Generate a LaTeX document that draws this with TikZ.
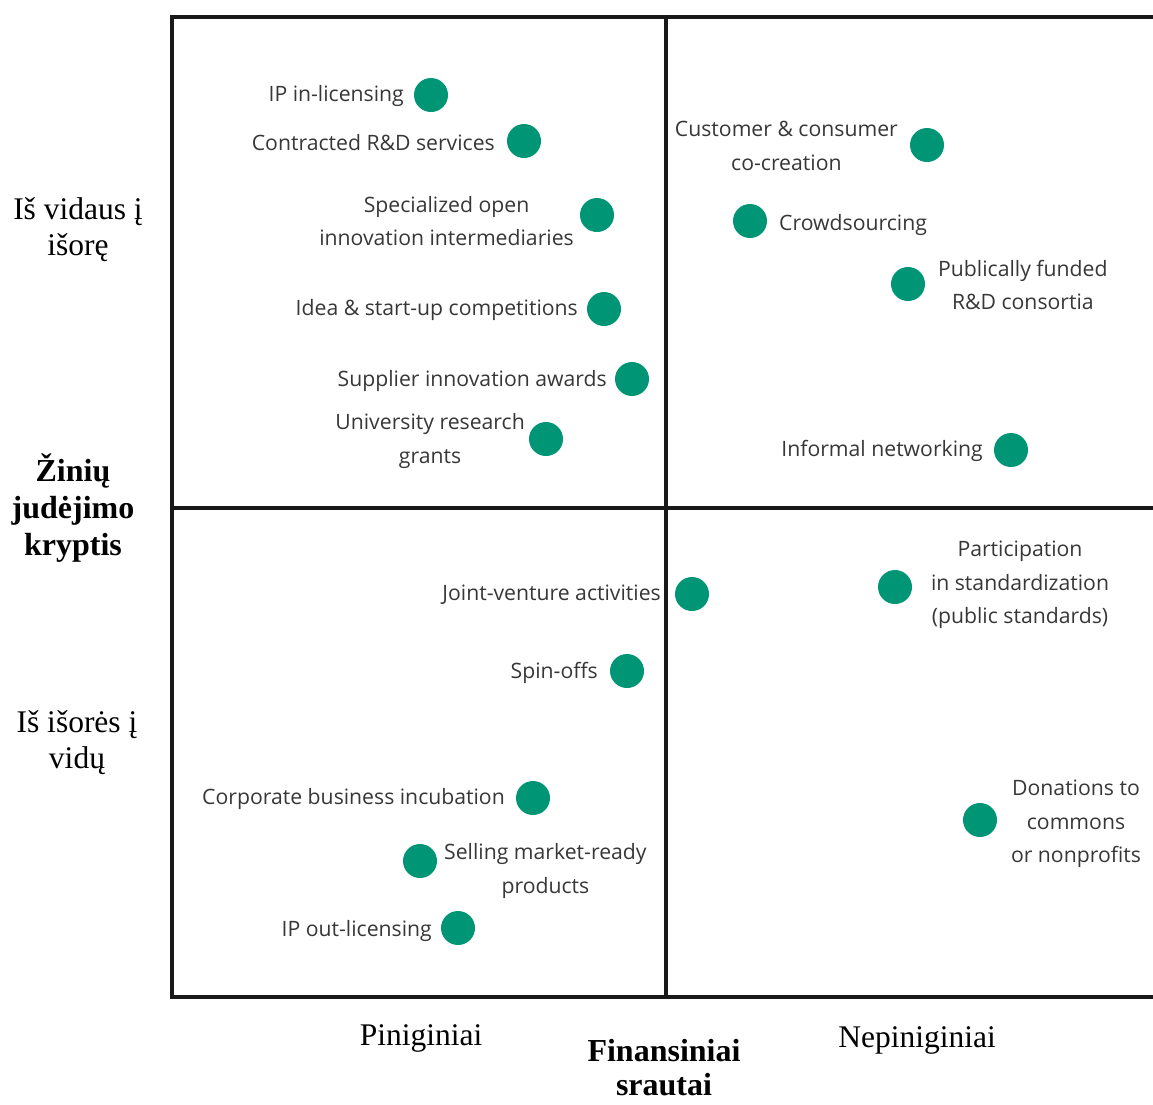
\documentclass[tikz,border=0pt]{standalone}
\usepackage{fontspec}
\setmainfont{Liberation Serif}
\newfontfamily\itemfont{Open Sans}
\definecolor{dotgreen}{RGB}{0,150,117}
\definecolor{itemgray}{RGB}{55,55,55}

\begin{document}
\begin{tikzpicture}[x = 1pt, y = -1pt,
        dot/.style = {circle, fill = dotgreen, minimum size = 34pt, inner sep = 0pt},
        item/.style = {font = \itemfont\fontsize{21.2}{33.5}\selectfont, text = itemgray, inner sep = 0pt, align = center, yshift = -2pt},
        axislbl/.style = {font = \fontsize{31.5}{36}\selectfont, align = center, inner sep = 0pt},
        axistitle/.style = {axislbl, font = \bfseries\fontsize{32}{37}\selectfont},
        frame/.style = {line width = 4pt, black!90}]
        \useasboundingbox (0,0) rectangle (1153,1104);

        % quadrants
        \draw [frame, line join = miter] (1153,17) -| (172,997) -- (1153,997);
        \draw [frame] (666,17) -- (666,997);
        \draw [frame] (172,508) -- (1153,508);

        % top left
        \node [dot] (ipin) at (431,95) {};
        \node [item, anchor = east] (ipin-l) at (404,94) {IP in-licensing};
        \node [dot] (contract) at (524,141) {};
        \node [item, anchor = east] (contract-l) at (495,141) {Contracted R\&D services};
        \node [dot] (intermed) at (597,215) {};
        \node [item, anchor = east] (intermed-l) at (574,219) {Specialized open\\innovation intermediaries};
        \node [dot] (contest) at (604,309) {};
        \node [item, anchor = east] (contest-l) at (578,308) {Idea \& start-up competitions};
        \node [dot] (supplier) at (632,379) {};
        \node [item, anchor = east] (supplier-l) at (607,379) {Supplier innovation awards};
        \node [dot] (univ) at (546,439) {};
        \node [item, anchor = east] (univ-l) at (525,439) {University research\\grants};

        % top right
        \node [dot] (cocreate) at (927,145) {};
        \node [item, anchor = east] (cocreate-l) at (898,144) {Customer \& consumer\\co-creation};
        \node [dot] (crowd) at (750,221) {};
        \node [item, anchor = west] (crowd-l) at (779,223) {Crowdsourcing};
        \node [dot] (consort) at (908,284) {};
        \node [item, anchor = west] (consort-l) at (938,283) {Publically funded\\R\&D consortia};
        \node [dot] (network) at (1011,450) {};
        \node [item, anchor = east] (network-l) at (983,449) {Informal networking};

        % bottom left
        \node [dot] (jointv) at (692,594) {};
        \node [item, anchor = east] (jointv-l) at (661,593) {Joint-venture activities};
        \node [dot] (spinoff) at (627,671) {};
        \node [item, anchor = east] (spinoff-l) at (598,671) {Spin-offs};
        \node [dot] (incub) at (533,798) {};
        \node [item, anchor = east] (incub-l) at (505,797) {Corporate business incubation};
        \node [dot] (selling) at (420,861) {};
        \node [item, anchor = west] (selling-l) at (444,869) {Selling market-ready\\products};
        \node [dot] (ipout) at (458,928) {};
        \node [item, anchor = east] (ipout-l) at (432,929) {IP out-licensing};

        % bottom right
        \node [dot] (standard) at (895,587) {};
        \node [item] (standard-l) at (1020,583) {Participation\\in standardization\\(public standards)};
        \node [dot] (donate) at (980,820) {};
        \node [item] (donate-l) at (1076,822) {Donations to\\commons\\or nonprofits};

        % axis titles
        \node [axislbl] (inout) at (78,230) {Iš vidaus į\\išorę};
        \node [axistitle] (flow) at (73,508) {Žinių\\judėjimo\\kryptis};
        \node [axislbl] (outin) at (77,743) {Iš išorės į\\vidų};
        \node [axislbl] (money) at (421,1038) {Piniginiai};
        \node [axistitle, font = \bfseries\fontsize{32}{34}\selectfont] (finance) at (664,1068) {Finansiniai\\srautai};
        \node [axislbl] (nomoney) at (917,1040) {Nepiniginiai};
\end{tikzpicture}
\end{document}
